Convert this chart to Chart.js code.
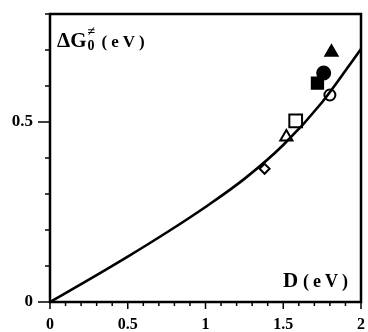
<!DOCTYPE html>
<html>
<head>
<meta charset="utf-8">
<script src="https://cdn.jsdelivr.net/npm/chart.js@4.4.1/dist/chart.umd.min.js"></script>
<style>
  html, body { margin: 0; padding: 0; background: #fff; }
  #wrap { width: 368px; height: 332px; }
</style>
</head>
<body>
<div id="wrap"><canvas id="c"></canvas></div>
<script>
// curve
const curveX = [0, 0.25, 0.5, 0.75, 1, 1.25, 1.5, 1.75, 2];
const curveY = [0, 0.062, 0.126, 0.193, 0.264, 0.342, 0.436, 0.555, 0.703];

// experimental points
const ptNames = ['diamond', 'openTri', 'openSquare', 'openCircle', 'fillSquare', 'fillCircle', 'fillTri'];
const ptX = [1.38, 1.52, 1.58, 1.80, 1.72, 1.76, 1.81];
const ptY = [0.37, 0.458, 0.503, 0.575, 0.608, 0.636, 0.694];

// tick labels
const xTickLabels = [0, 0.5, 1, 1.5, 2];
const yTickLabels = [0, 0.5];

const INK = '#000';
const SERIF = '"Liberation Serif", "DejaVu Serif", serif';

const markerStyle = {
  diamond:    { pointStyle: 'rectRot',  radius: 5, fill: '#fff' },
  openTri:    { pointStyle: 'triangle', radius: 7, fill: '#fff' },
  openSquare: { pointStyle: 'rect',     radius: 9, fill: '#fff' },
  openCircle: { pointStyle: 'circle',   radius: 5.5, fill: '#fff' },
  fillSquare: { pointStyle: 'rect',     radius: 8, fill: INK },
  fillCircle: { pointStyle: 'circle',   radius: 6.5, fill: INK },
  fillTri:    { pointStyle: 'triangle', radius: 7, fill: INK }
};

const isHalf = v => Math.abs(v * 2 - Math.round(v * 2)) < 1e-6;

// frame + tick marks + labels inside the plot
const framePlugin = {
  id: 'frame',
  afterDraw(chart) {
    const { ctx, chartArea: a, scales } = chart;
    const xs = scales.x, ys = scales.y;
    ctx.save();
    ctx.strokeStyle = INK;
    ctx.lineWidth = 2.5;
    ctx.strokeRect(a.left, a.top, a.right - a.left, a.bottom - a.top);

    // x ticks every 0.1, longer at 0.5
    ctx.lineWidth = 1.5;
    for (let i = 0; i <= 20; i++) {
      const v = i / 10;
      const px = xs.getPixelForValue(v);
      const len = isHalf(v) ? 7 : 4;
      ctx.beginPath();
      ctx.moveTo(px, a.bottom);
      ctx.lineTo(px, a.bottom + len);
      ctx.stroke();
    }
    // y ticks every 0.1, longer at 0.5
    for (let i = 0; i <= 8; i++) {
      const v = i / 10;
      const py = ys.getPixelForValue(v);
      const len = isHalf(v) ? 12 : 5;
      ctx.beginPath();
      ctx.moveTo(a.left, py);
      ctx.lineTo(a.left - len, py);
      ctx.stroke();
    }

    // y label: ΔG≠0 (eV)
    ctx.fillStyle = INK;
    ctx.textBaseline = 'alphabetic';
    ctx.textAlign = 'left';
    let x = a.left + 7, y = a.top + 33;
    ctx.font = 'bold 21px ' + SERIF;
    ctx.fillText('ΔG', x, y);
    x += ctx.measureText('ΔG').width + 1;
    ctx.font = 'bold 14px ' + SERIF;
    ctx.fillText('≠', x, y - 11);
    ctx.fillText('0', x, y + 3);
    ctx.font = 'bold 17px ' + SERIF;
    ctx.letterSpacing = '4px';
    ctx.fillText('(eV)', x + 14, y);

    // x label: D (eV)
    ctx.letterSpacing = '0px';
    x = a.right - 78; y = a.bottom - 15;
    ctx.font = 'bold 21px ' + SERIF;
    ctx.fillText('D', x, y);
    ctx.font = 'bold 18px ' + SERIF;
    ctx.letterSpacing = '4px';
    ctx.fillText('(eV)', x + 20, y);
    ctx.restore();
  }
};

const pointSets = ptNames.map((name, i) => {
  const m = markerStyle[name];
  return {
    label: name,
    data: [{ x: ptX[i], y: ptY[i] }],
    showLine: false,
    pointStyle: m.pointStyle,
    pointRadius: m.radius,
    pointBackgroundColor: m.fill,
    pointBorderColor: INK,
    pointBorderWidth: 2
  };
});

new Chart(document.getElementById('c'), {
  type: 'scatter',
  data: {
    datasets: [
      {
        label: 'curve',
        data: curveX.map((x, i) => ({ x, y: curveY[i] })),
        showLine: true,
        borderColor: INK,
        borderWidth: 2.6,
        pointRadius: 0,
        cubicInterpolationMode: 'monotone',
        fill: false
      },
      ...pointSets
    ]
  },
  options: {
    responsive: true,
    maintainAspectRatio: false,
    animation: false,
    layout: { autoPadding: false, padding: { top: 14, right: 7, left: 0, bottom: 0 } },
    plugins: { legend: { display: false }, tooltip: { enabled: false } },
    scales: {
      x: {
        type: 'linear', min: 0, max: 2,
        grid: { display: false },
        border: { display: false },
        afterFit: s => { s.height = 30; s.paddingLeft = 0; s.paddingRight = 0; },
        afterBuildTicks: s => { s.ticks = xTickLabels.map(v => ({ value: v })); },
        ticks: {
          padding: 5,
          color: INK,
          font: { family: SERIF, size: 16, weight: 'bold' },
          maxRotation: 0,
          callback: v => String(v)
        }
      },
      y: {
        type: 'linear', min: 0, max: 0.8,
        grid: { display: false },
        border: { display: false },
        afterFit: s => { s.width = 50; s.paddingTop = 0; s.paddingBottom = 0; },
        afterBuildTicks: s => { s.ticks = yTickLabels.map(v => ({ value: v })); },
        ticks: {
          padding: 9,
          color: INK,
          font: { family: SERIF, size: 17, weight: 'bold' },
          callback: v => String(v)
        }
      }
    }
  },
  plugins: [framePlugin]
});
</script>
</body>
</html>
